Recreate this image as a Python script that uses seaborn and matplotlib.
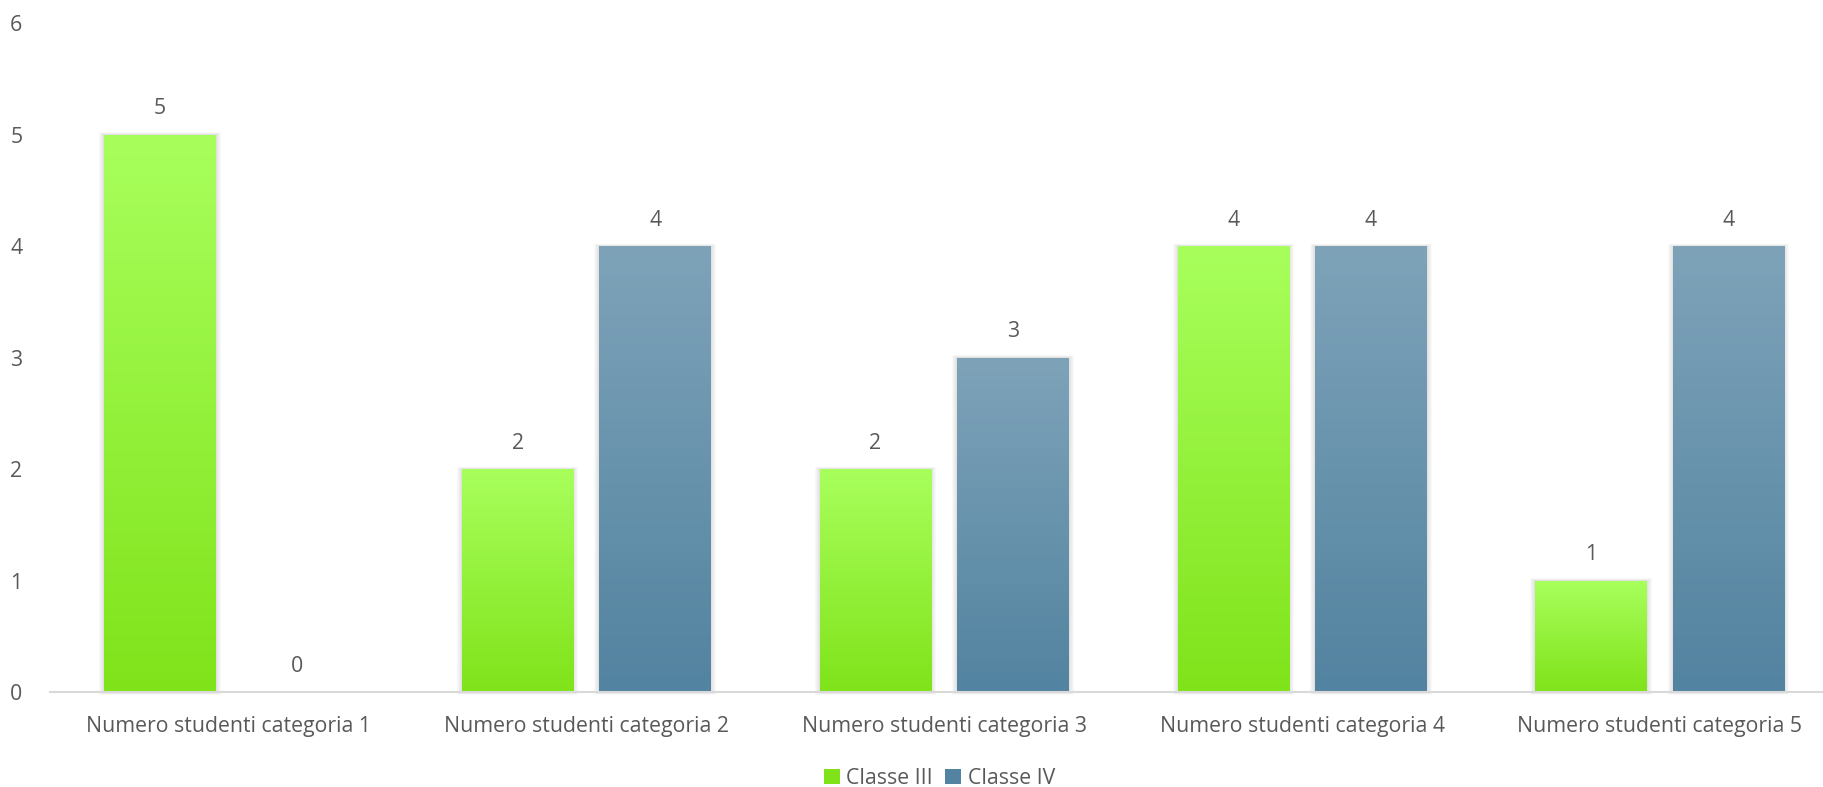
import numpy as np
import pandas as pd
import matplotlib
matplotlib.use("Agg")
import matplotlib.pyplot as plt
from matplotlib.patches import Patch, Rectangle
from matplotlib.colors import LinearSegmentedColormap
import seaborn as sns

categories = ["Numero studenti categoria 1", "Numero studenti categoria 2",
              "Numero studenti categoria 3", "Numero studenti categoria 4",
              "Numero studenti categoria 5"]
series_names = ["Classe III", "Classe IV"]
classe_iii = [5, 2, 2, 4, 1]
classe_iv = [0, 4, 3, 4, 4]

df = pd.DataFrame({
    "categoria": categories * 2,
    "classe": [series_names[0]] * len(categories) + [series_names[1]] * len(categories),
    "valore": classe_iii + classe_iv,
})

sns.set_theme(style="white")
plt.rcParams['font.family'] = ['Open Sans', 'DejaVu Sans']

text_color = "#595959"
grad = {
    "Classe III": ("#A8FF5C", "#80E31A"),
    "Classe IV": ("#7EA3B9", "#5283A0"),
}
solid = {"Classe III": "#94F03A", "Classe IV": "#6894AE"}
fs = 15.3

fig = plt.figure(figsize=(18.24, 7.87), dpi=100)
ax = fig.add_axes([0.0272, 0.1207, 0.9809, 0.850])

sns.barplot(data=df, x="categoria", y="valore", hue="classe", order=categories,
            hue_order=series_names, palette=solid, width=0.768, dodge=True,
            ax=ax, legend=False, saturation=1, gap=0.1875, linewidth=0)

ax.set_ylim(0, 6)
ax.set_xlim(-0.5, 4.5)

px_x = 5.0 / (0.9809 * 1824)
px_y = 6.0 / (0.850 * 787)

for cont, name in zip(ax.containers, series_names):
    top, bot = grad[name]
    cmap = LinearSegmentedColormap.from_list(name, [bot, top])
    for patch in cont.patches:
        patch.set_linewidth(0)
        patch.set_edgecolor("none")
        h = patch.get_height()
        if h <= 0:
            continue
        x0 = patch.get_x(); w = patch.get_width(); y0 = patch.get_y()
        for k in range(1, 6):
            ax.add_patch(Rectangle((x0 - k * px_x, y0 - k * px_y * 0.5), w + 2 * k * px_x,
                                   h + k * px_y * 1.0, facecolor="#000000", edgecolor="none",
                                   alpha=0.022, zorder=patch.get_zorder() - 0.2, clip_on=False))
        g = np.linspace(0, 1, 256).reshape(-1, 1)
        im = ax.imshow(g, cmap=cmap, origin="lower", extent=[x0, x0 + w, y0, y0 + h],
                       aspect="auto", zorder=patch.get_zorder() + 0.1, interpolation="bilinear")
        im.set_clip_path(patch)
    ax.bar_label(cont, labels=[f"{int(v)}" for v in cont.datavalues], padding=11,
                 fontsize=fs, color=text_color)

ax.set_ylim(0, 6)
ax.set_xlim(-0.5, 4.5)
ax.set_aspect("auto")

ax.set_yticks(range(0, 7))
ax.set_xlabel("")
ax.set_ylabel("")
ax.tick_params(axis="both", length=0, labelsize=fs, colors=text_color)
ax.tick_params(axis="x", pad=17)
for t in ax.get_yticklabels():
    t.set_horizontalalignment("center")
ax.yaxis.set_tick_params(pad=24)

for s in ["top", "right", "left"]:
    ax.spines[s].set_visible(False)
ax.spines["bottom"].set_color("#D9D9D9")
ax.spines["bottom"].set_linewidth(1.5)
ax.spines["bottom"].set_zorder(5)
ax.grid(False)

handles = [Patch(facecolor=grad[n][1], edgecolor="none") for n in series_names]
fig.legend(handles=handles, labels=series_names, loc="center", bbox_to_anchor=(0.515, 0.011),
           ncol=2, frameon=False, fontsize=fs, handlelength=0.75, handleheight=0.75,
           handletextpad=0.3, columnspacing=0.6, labelcolor=text_color)

fig.savefig("out.png", dpi=100)
